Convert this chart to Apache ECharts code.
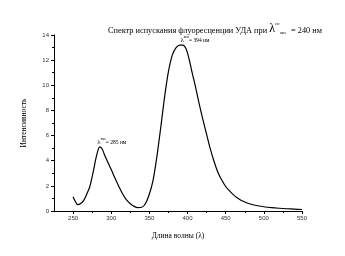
<!DOCTYPE html>
<html><head><meta charset="utf-8">
<script src="https://cdn.jsdelivr.net/npm/echarts@6/dist/echarts.min.js"></script>
<style>html,body{margin:0;padding:0;background:#fff}#c{width:345px;height:256px}</style>
</head><body><div id="c"></div>
<script>
const wavelength = [250,253,256,260,264,268,272,276,280,283,285,288,291,295,300,305,310,315,320,325,330,335,340,345,350,355,360,365,370,375,380,385,390,394,398,402,406,410,415,420,425,430,435,440,445,450,455,460,465,470,480,490,500,510,520,530,540,550];
const intensity = [1.14,0.75,0.5,0.6,0.85,1.35,1.95,3.0,4.2,4.9,5.1,4.95,4.5,3.95,3.3,2.6,1.95,1.35,0.88,0.58,0.37,0.27,0.3,0.6,1.35,2.5,4.4,6.7,9.1,11.1,12.4,13.0,13.2,13.2,12.9,12.1,11.0,10.0,8.6,7.3,6.1,4.9,3.9,3.05,2.45,1.95,1.6,1.3,1.05,0.85,0.6,0.44,0.34,0.27,0.22,0.18,0.15,0.12];
const xMajorTicks = [250,300,350,400,450,500,550];
const xMinorTicks = [275,325,375,425,475,525];
const peaks = [{x:285, y:5.1, label:'285 нм'},{x:394, y:13.2, label:'394 нм'}];

const serif = 'Liberation Serif';
const chart = echarts.init(document.getElementById('c'));
const fr = (size, va, lh, extra) => Object.assign({fontFamily:serif,fontSize:size,fontWeight:'normal',color:'#000',verticalAlign:va,lineHeight:lh}, extra||{});
chart.setOption({
  animation:false,
  title:{
    text:'{t|Спектр испускания флуоресценции УДА при }{l|λ}{sup|exc}{sub|max}{t| = 240 нм}',
    left:103, top:17,
    textStyle:{
      fontWeight:'normal',
      rich:{
        t:fr(8.3,'bottom',13),
        l:fr(12,'bottom',13),
        sup:fr(3.5,'top',13),
        sub:fr(3.5,'bottom',10,{padding:[0,3,0,0]})
      }
    }
  },
  grid:{left:54,right:43,top:35,bottom:45},
  xAxis:[{
    type:'value', min:225, max:550,
    name:'Длина волны (λ)', nameLocation:'middle', nameGap:21,
    nameTextStyle:{fontFamily:serif,fontSize:7.5,color:'#000'},
    axisLine:{show:true,lineStyle:{color:'#000',width:1}},
    axisTick:{show:true,customValues:xMajorTicks,length:3,lineStyle:{color:'#000'}},
    axisLabel:{customValues:xMajorTicks,fontFamily:'Liberation Sans',fontSize:6,color:'#333',margin:4},
    splitLine:{show:false}
  },{
    type:'value', min:225, max:550, position:'bottom',
    axisLine:{show:false},
    axisTick:{show:true,customValues:xMinorTicks,length:2,lineStyle:{color:'#000'}},
    axisLabel:{show:false},
    splitLine:{show:false}
  }],
  yAxis:{
    type:'value', min:0, max:14, interval:2,
    name:'Интенсивность', nameLocation:'middle', nameGap:26, nameRotate:90,
    nameTextStyle:{fontFamily:serif,fontSize:7.5,color:'#000'},
    axisLine:{show:true,lineStyle:{color:'#000',width:1}},
    axisTick:{show:true,length:3,lineStyle:{color:'#000'}},
    minorTick:{show:true,splitNumber:2,length:2,lineStyle:{color:'#000'}},
    axisLabel:{fontFamily:'Liberation Sans',fontSize:6,color:'#333',margin:5},
    splitLine:{show:false}
  },
  series:[{
    type:'line',
    data:wavelength.map((w,i)=>[w,intensity[i]]),
    smooth:0.3, symbol:'none',
    lineStyle:{color:'#000',width:1.2},
    markPoint:{
      symbol:'circle', symbolSize:0,
      data:peaks.map(p=>({coord:[p.x,p.y],value:p.label})),
      label:{
        show:true, position:'top', distance:0, offset:[12,-1],
        formatter:(p)=>'{l|λ}{sup|max}{t|= '+p.value+'}',
        rich:{
          l:fr(7,'bottom',8),
          sup:fr(3,'top',8),
          t:fr(5.5,'bottom',8)
        }
      }
    }
  }]
});
</script></body></html>
